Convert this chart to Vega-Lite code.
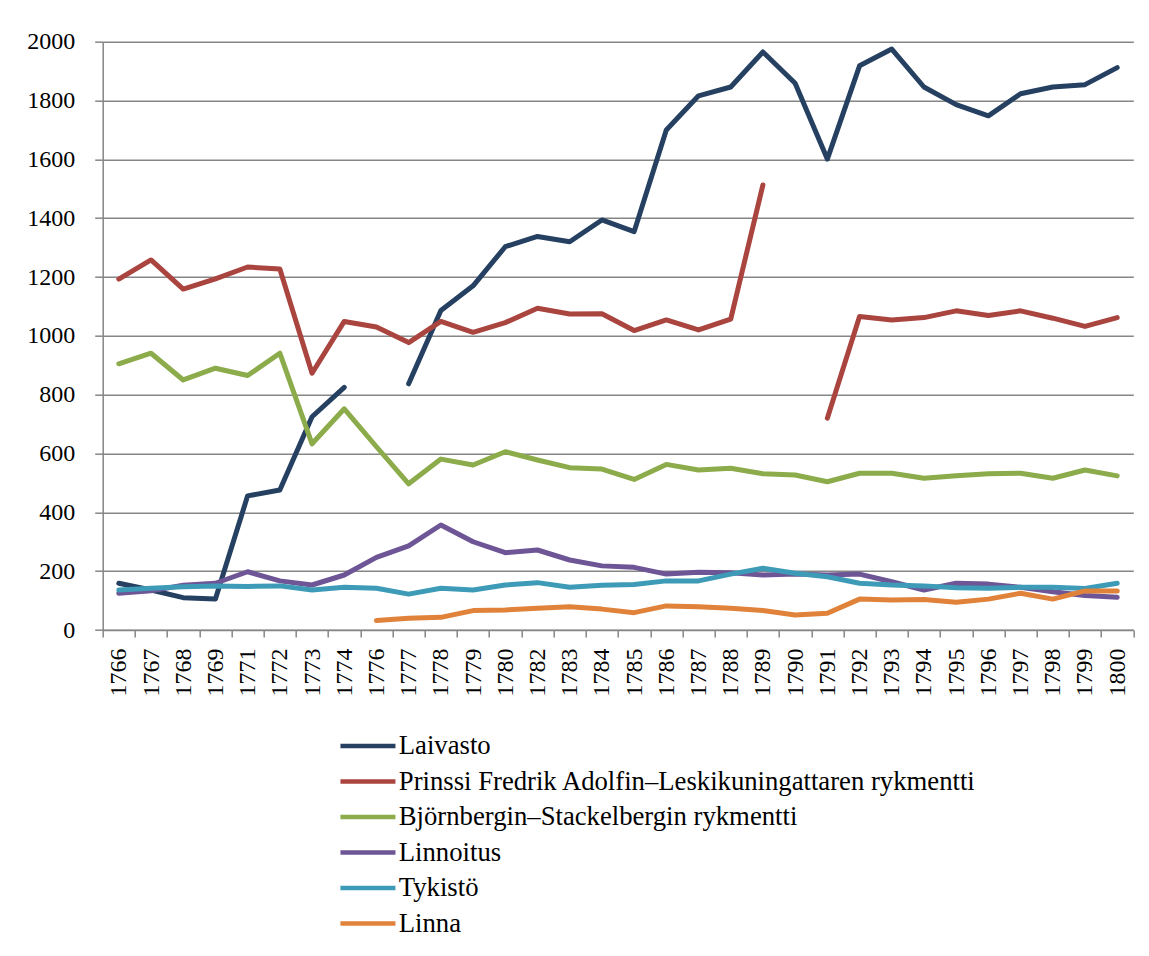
{
  "$schema": "https://vega.github.io/schema/vega-lite/v6.json",
  "autosize": "none",
  "width": 1030.6,
  "height": 588.3,
  "padding": {"left": 102.7, "top": 41.7, "right": 15.7, "bottom": 326},
  "background": "white",
  "data": {
    "values": [
      {"year": "1766", "Laivasto": 159, "Prinssi Fredrik Adolfin–Leskikuningattaren rykmentti": 1193, "Björnbergin–Stackelbergin rykmentti": 905, "Linnoitus": 125, "Tykistö": 136, "Linna": null},
      {"year": "1767", "Laivasto": 136, "Prinssi Fredrik Adolfin–Leskikuningattaren rykmentti": 1258, "Björnbergin–Stackelbergin rykmentti": 941, "Linnoitus": 133, "Tykistö": 142, "Linna": null},
      {"year": "1768", "Laivasto": 110, "Prinssi Fredrik Adolfin–Leskikuningattaren rykmentti": 1159, "Björnbergin–Stackelbergin rykmentti": 850, "Linnoitus": 152, "Tykistö": 147, "Linna": null},
      {"year": "1769", "Laivasto": 105, "Prinssi Fredrik Adolfin–Leskikuningattaren rykmentti": 1194, "Björnbergin–Stackelbergin rykmentti": 890, "Linnoitus": 159, "Tykistö": 150, "Linna": null},
      {"year": "1771", "Laivasto": 456, "Prinssi Fredrik Adolfin–Leskikuningattaren rykmentti": 1234, "Björnbergin–Stackelbergin rykmentti": 865, "Linnoitus": 198, "Tykistö": 148, "Linna": null},
      {"year": "1772", "Laivasto": 476, "Prinssi Fredrik Adolfin–Leskikuningattaren rykmentti": 1227, "Björnbergin–Stackelbergin rykmentti": 941, "Linnoitus": 167, "Tykistö": 150, "Linna": null},
      {"year": "1773", "Laivasto": 725, "Prinssi Fredrik Adolfin–Leskikuningattaren rykmentti": 873, "Björnbergin–Stackelbergin rykmentti": 633, "Linnoitus": 153, "Tykistö": 136, "Linna": null},
      {"year": "1774", "Laivasto": 825, "Prinssi Fredrik Adolfin–Leskikuningattaren rykmentti": 1049, "Björnbergin–Stackelbergin rykmentti": 752, "Linnoitus": 187, "Tykistö": 145, "Linna": null},
      {"year": "1776", "Laivasto": null, "Prinssi Fredrik Adolfin–Leskikuningattaren rykmentti": 1030, "Björnbergin–Stackelbergin rykmentti": 623, "Linnoitus": 247, "Tykistö": 142, "Linna": 32},
      {"year": "1777", "Laivasto": 837, "Prinssi Fredrik Adolfin–Leskikuningattaren rykmentti": 977, "Björnbergin–Stackelbergin rykmentti": 497, "Linnoitus": 286, "Tykistö": 122, "Linna": 40},
      {"year": "1778", "Laivasto": 1086, "Prinssi Fredrik Adolfin–Leskikuningattaren rykmentti": 1049, "Björnbergin–Stackelbergin rykmentti": 581, "Linnoitus": 357, "Tykistö": 142, "Linna": 43},
      {"year": "1779", "Laivasto": 1170, "Prinssi Fredrik Adolfin–Leskikuningattaren rykmentti": 1012, "Björnbergin–Stackelbergin rykmentti": 561, "Linnoitus": 300, "Tykistö": 136, "Linna": 66},
      {"year": "1780", "Laivasto": 1303, "Prinssi Fredrik Adolfin–Leskikuningattaren rykmentti": 1045, "Björnbergin–Stackelbergin rykmentti": 606, "Linnoitus": 263, "Tykistö": 153, "Linna": 68},
      {"year": "1782", "Laivasto": 1338, "Prinssi Fredrik Adolfin–Leskikuningattaren rykmentti": 1094, "Björnbergin–Stackelbergin rykmentti": 578, "Linnoitus": 272, "Tykistö": 161, "Linna": 74},
      {"year": "1783", "Laivasto": 1320, "Prinssi Fredrik Adolfin–Leskikuningattaren rykmentti": 1074, "Björnbergin–Stackelbergin rykmentti": 552, "Linnoitus": 238, "Tykistö": 145, "Linna": 79},
      {"year": "1784", "Laivasto": 1394, "Prinssi Fredrik Adolfin–Leskikuningattaren rykmentti": 1075, "Björnbergin–Stackelbergin rykmentti": 547, "Linnoitus": 218, "Tykistö": 152, "Linna": 71},
      {"year": "1785", "Laivasto": 1354, "Prinssi Fredrik Adolfin–Leskikuningattaren rykmentti": 1018, "Björnbergin–Stackelbergin rykmentti": 512, "Linnoitus": 213, "Tykistö": 155, "Linna": 59},
      {"year": "1786", "Laivasto": 1700, "Prinssi Fredrik Adolfin–Leskikuningattaren rykmentti": 1054, "Björnbergin–Stackelbergin rykmentti": 563, "Linnoitus": 190, "Tykistö": 167, "Linna": 82},
      {"year": "1787", "Laivasto": 1816, "Prinssi Fredrik Adolfin–Leskikuningattaren rykmentti": 1020, "Björnbergin–Stackelbergin rykmentti": 544, "Linnoitus": 196, "Tykistö": 167, "Linna": 79},
      {"year": "1788", "Laivasto": 1846, "Prinssi Fredrik Adolfin–Leskikuningattaren rykmentti": 1057, "Björnbergin–Stackelbergin rykmentti": 550, "Linnoitus": 195, "Tykistö": 190, "Linna": 74},
      {"year": "1789", "Laivasto": 1965, "Prinssi Fredrik Adolfin–Leskikuningattaren rykmentti": 1513, "Björnbergin–Stackelbergin rykmentti": 531, "Linnoitus": 187, "Tykistö": 210, "Linna": 66},
      {"year": "1790", "Laivasto": 1859, "Prinssi Fredrik Adolfin–Leskikuningattaren rykmentti": null, "Björnbergin–Stackelbergin rykmentti": 527, "Linnoitus": 190, "Tykistö": 193, "Linna": 51},
      {"year": "1791", "Laivasto": 1601, "Prinssi Fredrik Adolfin–Leskikuningattaren rykmentti": 720, "Björnbergin–Stackelbergin rykmentti": 504, "Linnoitus": 187, "Tykistö": 181, "Linna": 57},
      {"year": "1792", "Laivasto": 1918, "Prinssi Fredrik Adolfin–Leskikuningattaren rykmentti": 1066, "Björnbergin–Stackelbergin rykmentti": 533, "Linnoitus": 190, "Tykistö": 159, "Linna": 105},
      {"year": "1793", "Laivasto": 1975, "Prinssi Fredrik Adolfin–Leskikuningattaren rykmentti": 1054, "Björnbergin–Stackelbergin rykmentti": 533, "Linnoitus": 164, "Tykistö": 153, "Linna": 102},
      {"year": "1794", "Laivasto": 1846, "Prinssi Fredrik Adolfin–Leskikuningattaren rykmentti": 1062, "Björnbergin–Stackelbergin rykmentti": 516, "Linnoitus": 136, "Tykistö": 150, "Linna": 104},
      {"year": "1795", "Laivasto": 1786, "Prinssi Fredrik Adolfin–Leskikuningattaren rykmentti": 1085, "Björnbergin–Stackelbergin rykmentti": 524, "Linnoitus": 159, "Tykistö": 144, "Linna": 94},
      {"year": "1796", "Laivasto": 1748, "Prinssi Fredrik Adolfin–Leskikuningattaren rykmentti": 1069, "Björnbergin–Stackelbergin rykmentti": 531, "Linnoitus": 156, "Tykistö": 142, "Linna": 105},
      {"year": "1797", "Laivasto": 1823, "Prinssi Fredrik Adolfin–Leskikuningattaren rykmentti": 1085, "Björnbergin–Stackelbergin rykmentti": 533, "Linnoitus": 145, "Tykistö": 145, "Linna": 125},
      {"year": "1798", "Laivasto": 1846, "Prinssi Fredrik Adolfin–Leskikuningattaren rykmentti": 1060, "Björnbergin–Stackelbergin rykmentti": 516, "Linnoitus": 130, "Tykistö": 145, "Linna": 105},
      {"year": "1799", "Laivasto": 1854, "Prinssi Fredrik Adolfin–Leskikuningattaren rykmentti": 1032, "Björnbergin–Stackelbergin rykmentti": 544, "Linnoitus": 117, "Tykistö": 141, "Linna": 133},
      {"year": "1800", "Laivasto": 1912, "Prinssi Fredrik Adolfin–Leskikuningattaren rykmentti": 1062, "Björnbergin–Stackelbergin rykmentti": 524, "Linnoitus": 111, "Tykistö": 159, "Linna": 133}
    ]
  },
  "transform": [
    {"fold": ["Laivasto", "Prinssi Fredrik Adolfin–Leskikuningattaren rykmentti", "Björnbergin–Stackelbergin rykmentti", "Linnoitus", "Tykistö", "Linna"], "as": ["series", "value"]}
  ],
  "mark": {"type": "line", "strokeWidth": 5, "strokeCap": "round", "strokeJoin": "round", "invalid": "break-paths-show-domains"},
  "encoding": {
    "x": {
      "field": "year",
      "type": "ordinal",
      "sort": null,
      "scale": {"type": "band", "paddingInner": 0, "paddingOuter": 0},
      "axis": {
        "title": null,
        "tickBand": "extent",
        "labelAngle": 270,
        "labelAlign": "right",
        "labelBaseline": "middle",
        "labelFont": "Liberation Serif",
        "labelFontSize": 24,
        "labelColor": "#000000",
        "labelPadding": 11,
        "tickSize": 7,
        "tickColor": "#868686",
        "tickWidth": 1.5,
        "domainColor": "#868686",
        "domainWidth": 1.5,
        "grid": false
      }
    },
    "y": {
      "field": "value",
      "type": "quantitative",
      "scale": {"domain": [0, 2000], "nice": false, "zero": true},
      "axis": {
        "title": null,
        "format": "d",
        "values": [0, 200, 400, 600, 800, 1000, 1200, 1400, 1600, 1800, 2000],
        "labelFont": "Liberation Serif",
        "labelFontSize": 24,
        "labelColor": "#000000",
        "labelPadding": 20,
        "tickSize": 8,
        "tickColor": "#868686",
        "tickWidth": 1.5,
        "domainColor": "#868686",
        "domainWidth": 1.5,
        "grid": true,
        "gridColor": "#868686",
        "gridWidth": 1.5
      }
    },
    "color": {
      "field": "series",
      "type": "nominal",
      "scale": {
        "domain": ["Laivasto", "Prinssi Fredrik Adolfin–Leskikuningattaren rykmentti", "Björnbergin–Stackelbergin rykmentti", "Linnoitus", "Tykistö", "Linna"],
        "range": ["#254061", "#A9443F", "#8CAB4B", "#6D5596", "#3D9BB7", "#E0823A"]
      },
      "legend": {
        "title": null,
        "orient": "none",
        "legendX": 234.4,
        "legendY": 691,
        "padding": 0,
        "symbolType": "M-1,0H4.5",
        "symbolSize": 400,
        "symbolStrokeWidth": 4.5,
        "labelFont": "Liberation Serif",
        "labelFontSize": 26.7,
        "labelColor": "#000000",
        "labelOffset": 35,
        "labelLimit": 1000,
        "rowPadding": 7.5
      }
    }
  },
  "config": {
    "font": "Liberation Serif",
    "view": {"stroke": null},
    "axis": {"labelOverlap": false, "labelFont": "Liberation Serif"}
  }
}
